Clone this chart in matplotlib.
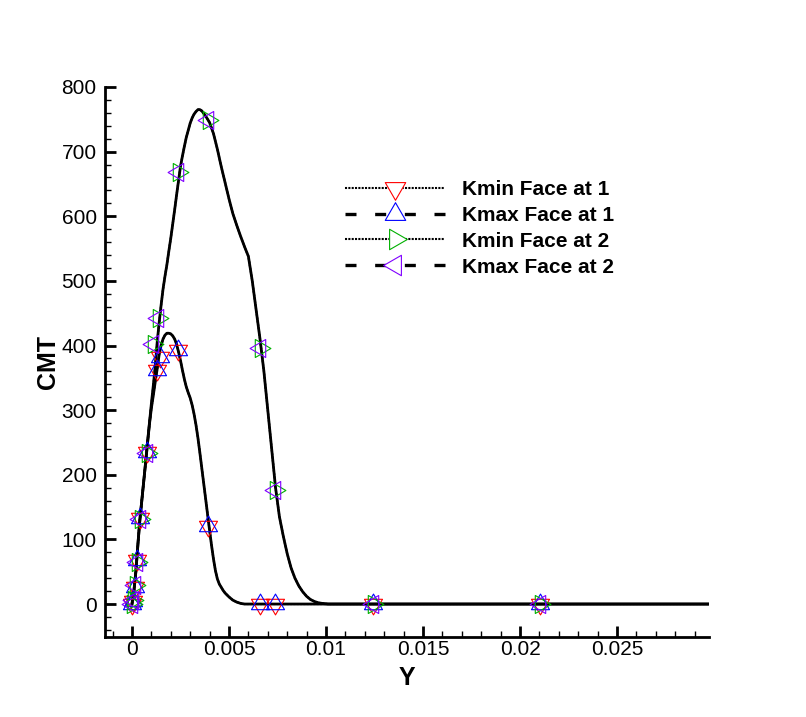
import math
import matplotlib
matplotlib.use("Agg")
import matplotlib.pyplot as plt
from matplotlib.lines import Line2D
from matplotlib.path import Path
from matplotlib.ticker import MultipleLocator, FuncFormatter

plt.rcParams['font.family'] = ['Liberation Sans', 'DejaVu Sans']

# curve traces
face1_cx = [0, 0.0001, 0.0002, 0.0003, 0.0004, 0.0005, 0.0006, 0.0007, 0.0008, 0.0009,
            0.001, 0.0011, 0.0012, 0.0013, 0.0014, 0.0015, 0.0016, 0.0017, 0.0018, 0.0019,
            0.002, 0.0021, 0.0022, 0.0023, 0.0024, 0.0025, 0.0026, 0.0027, 0.0028, 0.0029,
            0.003, 0.0031, 0.0032, 0.0033, 0.0034, 0.0035, 0.0036, 0.0037, 0.0038, 0.0039,
            0.004, 0.0041, 0.0042, 0.0043, 0.0044, 0.0045, 0.0046, 0.0047, 0.0048, 0.005,
            0.0052, 0.0054, 0.0056, 0.0058, 0.0297]
face1_cy = [0, 20, 50, 90, 128, 158, 188, 218, 248, 278,
            303, 323, 344, 364, 386, 400, 410, 416, 419, 419,
            418, 415, 410, 402, 390, 377, 362, 348, 336, 327,
            319, 308, 294, 277, 257, 234, 210, 186, 162, 138,
            114, 91, 70, 52, 39, 31, 26, 21, 17, 11,
            6, 3, 1, 0, 0]

face2_cx = [0, 0.0001, 0.0002, 0.0003, 0.0004, 0.0005, 0.0006, 0.0007, 0.0008, 0.0009,
            0.001, 0.0011, 0.0012, 0.0013, 0.0014, 0.0015, 0.0016, 0.0017, 0.0018, 0.0019,
            0.002, 0.0021, 0.0022, 0.0023, 0.0024, 0.0025, 0.0026, 0.0027, 0.0028, 0.0029,
            0.003, 0.0031, 0.0032, 0.0033, 0.0034, 0.0035, 0.0036, 0.0037, 0.0038, 0.0039,
            0.004, 0.0042, 0.0044, 0.0046, 0.0048, 0.005, 0.0052, 0.0054, 0.0056, 0.0058,
            0.006, 0.0062, 0.0064, 0.0066, 0.0068, 0.007, 0.0072, 0.0074, 0.0076, 0.0078,
            0.008, 0.0082, 0.0084, 0.0086, 0.0088, 0.009, 0.0092, 0.0094, 0.0096, 0.0098,
            0.0101, 0.0297]
face2_cy = [0, 20, 50, 90, 128, 158, 188, 218, 250, 280,
            310, 338, 368, 405, 435, 462, 487, 507, 525, 546,
            566, 588, 610, 633, 655, 677, 693, 708, 722, 733,
            744, 752, 758, 762, 765, 765, 763, 759, 755, 750,
            745, 728, 704, 677, 652, 627, 604, 586, 569, 553,
            538, 500, 455, 410, 360, 300, 240, 180, 135, 105,
            78, 56, 40, 28, 19, 12, 7, 4, 2, 1,
            0, 0]

# marker points
face1_mx = [0, 0.00005, 0.00015, 0.00024, 0.0004, 0.00075, 0.00127, 0.00144, 0.00239,
            0.00393, 0.0066, 0.00737, 0.01244, 0.02103]
face1_my = [0, 4, 27, 68, 133, 235, 362, 383, 393, 120, 0, 0, 0, 0]

face2_mx = [0, 0.00005, 0.00015, 0.00024, 0.0004, 0.00075, 0.0011, 0.00136, 0.00239,
            0.00393, 0.0066, 0.00737, 0.01244, 0.02103]
face2_my = [0, 6, 30, 65, 131, 234, 403, 442, 669, 749, 396, 176, 0, 0]

labels = ['Kmin Face at 1', 'Kmax Face at 1', 'Kmin Face at 2', 'Kmax Face at 2']
colors = ['#ff0000', '#0000ff', '#00b000', '#8000ff']


# triangles centred on their centroid, so up+down overlap as a star
def tri(angle_deg):
    pts = []
    for k in range(3):
        a = math.radians(angle_deg + 120 * k)
        pts.append((math.cos(a), math.sin(a)))
    pts.append(pts[0])
    return Path(pts, [Path.MOVETO, Path.LINETO, Path.LINETO, Path.CLOSEPOLY])


markers = [tri(-90), tri(90), tri(0), tri(180)]

dotted = (0, (1, 0.6))
dashed = (0, (3.3, 5.6))

fig = plt.figure(figsize=(8.06, 7.17), dpi=100)
ax = fig.add_axes([105/806, 1-637/717, (709-105)/806, (637-87)/717])

series = [
    (face1_cx, face1_cy, face1_mx, face1_my, dotted, 1.5),
    (face1_cx, face1_cy, face1_mx, face1_my, '-', 2.0),
    (face2_cx, face2_cy, face2_mx, face2_my, dotted, 1.5),
    (face2_cx, face2_cy, face2_mx, face2_my, '-', 2.0),
]
leg_styles = [(dotted, 1.5), (dashed, 2.4), (dotted, 1.5), (dashed, 2.4)]

handles = []
for (cx, cy, mx, my, ls, lw), (lls, llw), col, mk in zip(series, leg_styles, colors, markers):
    ax.plot(cx, cy, color='black', linestyle=ls, linewidth=lw, zorder=2)
    ax.plot(mx, my, linestyle='none', marker=mk, markersize=15,
            markerfacecolor='none', markeredgecolor=col, markeredgewidth=0.8, zorder=3)
    handles.append(Line2D([], [], color='black', linestyle=lls, linewidth=llw,
                          marker=mk, markersize=17, markerfacecolor='white',
                          markeredgecolor=col, markeredgewidth=0.8))

ax.set_xlim(-0.00139, 0.02974)
ax.set_ylim(-51, 800)

ax.spines['top'].set_visible(False)
ax.spines['right'].set_visible(False)
ax.spines['left'].set_linewidth(2)
ax.spines['bottom'].set_linewidth(2)

ax.xaxis.set_major_locator(MultipleLocator(0.005))
ax.xaxis.set_minor_locator(MultipleLocator(0.001))
ax.yaxis.set_major_locator(MultipleLocator(100))
ax.yaxis.set_minor_locator(MultipleLocator(20))
ax.xaxis.set_major_formatter(FuncFormatter(lambda v, p: '%g' % round(v, 6)))
ax.tick_params(which='major', direction='in', length=8, width=2, labelsize=15)
ax.tick_params(which='minor', direction='in', length=4, width=1)
ax.tick_params(axis='x', which='major', pad=2)
ax.tick_params(axis='y', which='major', pad=6)

ax.set_xlabel('Y', fontsize=18, fontweight='bold', labelpad=5)
ax.set_ylabel('CMT', fontsize=18, fontweight='bold', labelpad=1)

ax.legend(handles=handles, labels=labels, loc='upper left',
          bbox_to_anchor=(345/806, 1-180/717), bbox_transform=fig.transFigure,
          frameon=False, numpoints=1, handlelength=4.8, handletextpad=0.8,
          labelspacing=0.33, borderpad=0, borderaxespad=0,
          prop={'size': 15, 'weight': 'bold'})

fig.savefig('out.png', dpi=100)
